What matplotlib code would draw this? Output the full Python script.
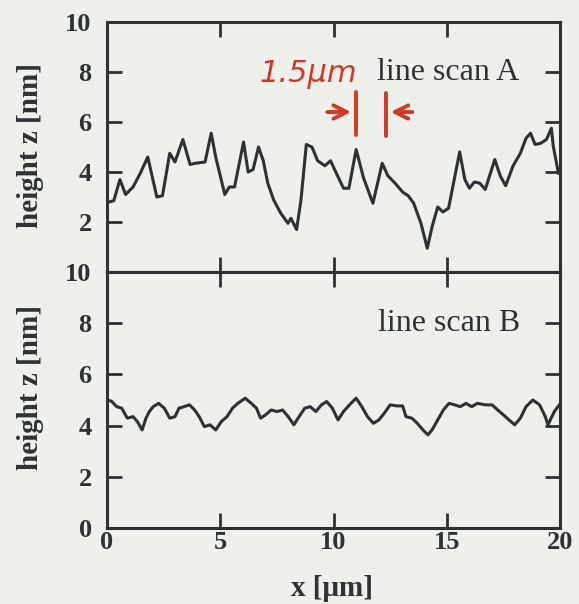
import matplotlib.pyplot as plt

# line scan A (x in um, z in nm)
xa = [0.0, 0.08, 0.3, 0.57, 0.82, 1.15, 1.47, 1.8, 2.2, 2.45, 2.77, 3.0, 3.35, 3.67, 3.9,
      4.33, 4.6, 4.8, 5.2, 5.4, 5.63, 6.03, 6.23, 6.45, 6.69, 6.9, 7.1, 7.35, 7.67, 7.99,
      8.12, 8.37, 8.56, 8.8, 9.05, 9.3, 9.62, 9.87, 10.1, 10.44, 10.68, 11.0, 11.33, 11.74,
      12.15, 12.4, 12.72, 13.05, 13.3, 13.54, 13.86, 14.14, 14.35, 14.6, 14.83, 15.08,
      15.57, 15.8, 16.0, 16.22, 16.46, 16.7, 17.12, 17.36, 17.6, 17.93, 18.25, 18.5, 18.7,
      18.9, 19.15, 19.4, 19.62, 19.7, 19.93]
za = [2.75, 2.8, 2.85, 3.7, 3.1, 3.4, 3.95, 4.6, 3.0, 3.05, 4.75, 4.4, 5.3, 4.3, 4.35,
      4.4, 5.55, 4.6, 3.1, 3.4, 3.4, 5.2, 4.0, 4.1, 5.0, 4.45, 3.55, 2.9, 2.35, 1.95,
      2.15, 1.7, 2.85, 5.1, 5.0, 4.45, 4.25, 4.45, 4.0, 3.35, 3.35, 4.9, 3.75, 2.75,
      4.35, 3.85, 3.55, 3.2, 3.05, 2.75, 1.95, 0.95, 1.8, 2.6, 2.4, 2.55,
      4.8, 3.7, 3.35, 3.6, 3.55, 3.3, 4.5, 3.85, 3.45, 4.25, 4.75, 5.35, 5.55,
      5.1, 5.15, 5.3, 5.75, 5.05, 3.95]

# line scan B
xb = [0.0, 0.2, 0.43, 0.65, 0.9, 1.15, 1.34, 1.55, 1.72, 1.87, 2.04, 2.28, 2.53, 2.77,
      3.0, 3.18, 3.4, 3.64, 3.87, 4.07, 4.3, 4.55, 4.8, 5.05, 5.3, 5.54, 5.78, 6.1, 6.37,
      6.6, 6.78, 7.0, 7.25, 7.5, 7.75, 8.0, 8.25, 8.48, 8.73, 8.97, 9.22, 9.47, 9.7, 9.95,
      10.2, 10.44, 10.77, 11.0, 11.25, 11.5, 11.76, 12.0, 12.24, 12.5, 12.8, 13.05, 13.2,
      13.46, 13.7, 13.95, 14.17, 14.35, 14.6, 14.85, 15.1, 15.35, 15.6, 15.85, 16.1, 16.35,
      16.7, 17.0, 17.25, 17.5, 17.75, 18.0, 18.25, 18.5, 18.8, 19.1, 19.35, 19.47, 19.75,
      19.97]
zb = [5.0, 4.95, 4.74, 4.68, 4.29, 4.35, 4.16, 3.83, 4.29, 4.55, 4.74, 4.87, 4.68, 4.29,
      4.35, 4.68, 4.74, 4.81, 4.61, 4.35, 3.96, 4.03, 3.83, 4.16, 4.35, 4.68, 4.87, 5.07, 4.87,
      4.68, 4.29, 4.42, 4.61, 4.55, 4.61, 4.35, 4.03, 4.35, 4.68, 4.74, 4.55, 4.81, 4.94, 4.68,
      4.22, 4.55, 4.87, 5.07, 4.74, 4.35, 4.09, 4.22, 4.48, 4.81, 4.77, 4.77, 4.35,
      4.29, 4.09, 3.83, 3.64, 3.83, 4.22, 4.61, 4.87, 4.81, 4.74, 4.87, 4.74, 4.87,
      4.81, 4.81, 4.61, 4.42, 4.22, 4.03, 4.29, 4.74, 5.0, 4.81, 4.35, 4.03, 4.55,
      4.81]

x_ticks = [0, 5, 10, 15, 20]
y_ticks_a = [2, 4, 6, 8, 10]
y_ticks_b = [0, 2, 4, 6, 8, 10]

bg = '#eef0ec'
ink = '#2e3233'
red = '#d23a24'
serif = 'Liberation Serif'

W, H = 579, 604
fig = plt.figure(figsize=(W / 100, H / 100), dpi=100, facecolor=bg)

left, right = 107 / W, 560 / W
ax_a = fig.add_axes([left, 1 - 272 / H, right - left, 250 / H])
ax_b = fig.add_axes([left, 1 - 528 / H, right - left, 256 / H])

for ax in (ax_a, ax_b):
    ax.set_facecolor(bg)
    ax.set_xlim(0, 20)
    ax.set_ylim(0, 10)
    ax.set_xticks(x_ticks)
    for s in ax.spines.values():
        s.set_linewidth(2.2)
        s.set_color(ink)
    ax.tick_params(direction='in', length=11, width=2, color=ink,
                   top=True, right=True, labelsize=19, labelcolor=ink)
    ax.tick_params(axis='y', pad=11)

ax_a.plot(xa, za, color=ink, lw=2.2)
ax_a.set_yticks([0] + y_ticks_a)
ax_a.set_yticklabels([''] + [str(v) for v in y_ticks_a], fontfamily=serif, fontweight='bold')
ax_a.tick_params(axis='x', labelbottom=False)

ax_b.plot(xb, zb, color=ink, lw=2.2)
ax_b.set_yticks(y_ticks_b)
ax_b.set_yticklabels([str(v) for v in y_ticks_b], fontfamily=serif, fontweight='bold')
ax_b.set_xticklabels([str(v) for v in x_ticks], fontfamily=serif, fontweight='bold')
ax_b.tick_params(axis='x', pad=2)

ax_a.text(11.9, 8.0, 'line scan A', fontsize=23, family=serif, color=ink, va='center')
ax_b.text(11.95, 8.0, 'line scan B', fontsize=23, family=serif, color=ink, va='center')

# hand-drawn width marker
ax_a.text(8.9, 7.9, '1.5μm', fontsize=22, color=red, style='italic',
          family='DejaVu Sans', va='center', ha='center')
ax_a.plot([10.98, 10.98], [5.5, 7.2], color=red, lw=2.8, solid_capstyle='round')
ax_a.plot([12.3, 12.3], [5.45, 7.15], color=red, lw=2.8, solid_capstyle='round')
ax_a.annotate('', xy=(10.9, 6.4), xytext=(9.6, 6.4),
              arrowprops=dict(arrowstyle='->', color=red, lw=2.8, mutation_scale=24))
ax_a.annotate('', xy=(12.4, 6.4), xytext=(13.6, 6.4),
              arrowprops=dict(arrowstyle='->', color=red, lw=2.8, mutation_scale=24))

fig.text(31 / W, 1 - 145 / H, 'height z [nm]', rotation=90, ha='center', va='center',
         fontsize=21, family=serif, fontweight='bold', color=ink)
fig.text(31 / W, 1 - 387 / H, 'height z [nm]', rotation=90, ha='center', va='center',
         fontsize=21, family=serif, fontweight='bold', color=ink)
fig.text(332 / W, 1 - 589 / H, 'x [μm]', ha='center', va='center',
         fontsize=21, family=serif, fontweight='bold', color=ink)

fig.savefig('out.png', dpi=100, facecolor=bg)
